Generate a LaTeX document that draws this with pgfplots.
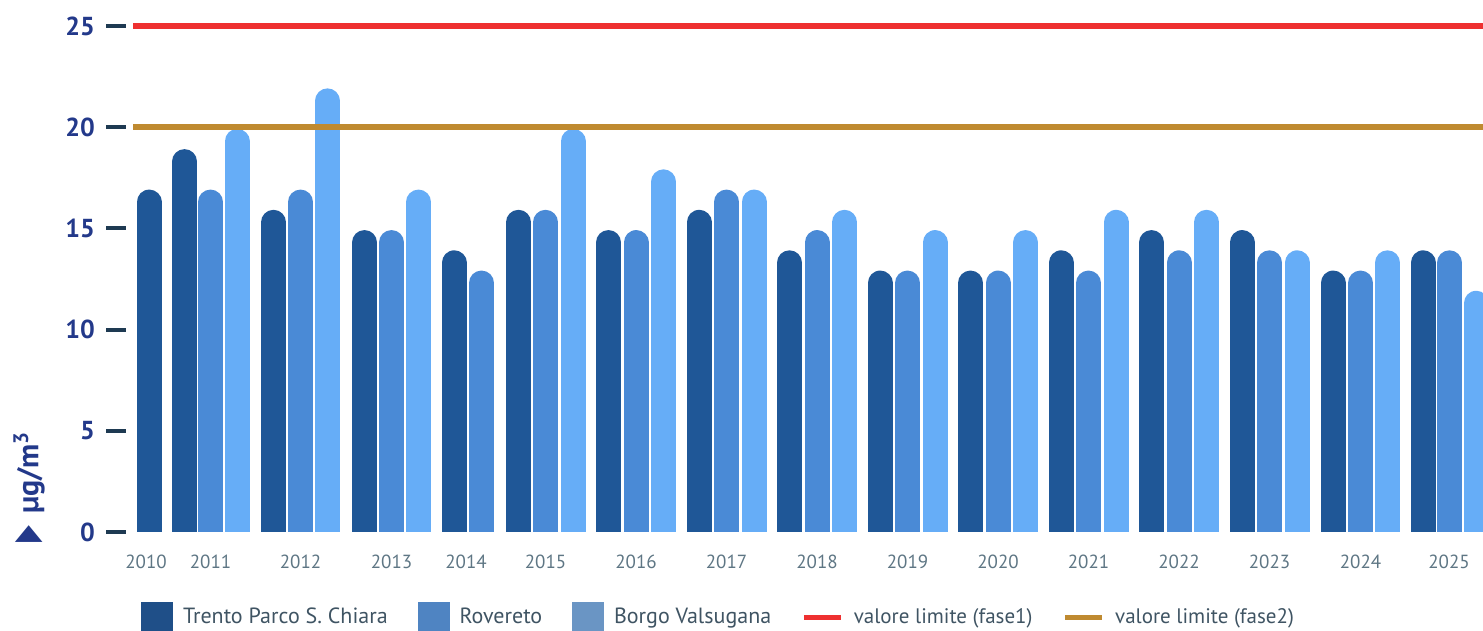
\documentclass[border=0pt]{standalone}
\usepackage{fontspec}
\setmainfont{PT Sans}
\newfontfamily\dejavu{DejaVu Sans}
\usepackage{graphicx}
\usepackage{pgfplots}
\usepackage{pgfplotstable}
\pgfplotsset{compat=1.18}

\definecolor{cdark}{HTML}{1F5797}
\definecolor{cmid}{HTML}{4A8AD6}
\definecolor{clight}{HTML}{66ADF7}
\definecolor{ldark}{HTML}{1F4F88}
\definecolor{lmid}{HTML}{4F84C2}
\definecolor{llight}{HTML}{6A95C4}
\definecolor{limred}{HTML}{EE3030}
\definecolor{limgold}{HTML}{BF8A30}
\definecolor{navy}{HTML}{23398A}
\definecolor{tickc}{HTML}{1E3A52}
\definecolor{xlab}{HTML}{5E7684}
\definecolor{legtext}{HTML}{3F5463}

% x = horizontal position of each bar (the years are grouped irregularly)
\pgfplotstableread{
x      y
149    17
184.5  19
273.5  16
364.5  15
454    14
518.5  16
608.5  15
699    16
789.5  14
880    13
970.5  13
1061   14
1151.5 15
1242   15
1333   13
1423   14
}\trento
\pgfplotstableread{
x      y
210.5  17
300.5  17
391.5  15
481.5  13
545.5  16
636    15
726.5  17
817    15
907.5  13
998    13
1088.5 13
1179   14
1269.5 14
1360.5 13
1449.5 14
}\rovereto
\pgfplotstableread{
x      y
237    20
327.5  22
418.5  17
573    20
663.5  18
754    17
844.5  16
935    15
1025.5 15
1116   16
1206.5 16
1297   14
1387.5 14
1476   12
}\borgo

% bars: thick comb lines with a round cap; the cap's radius (6.25pt = 0.62 units)
% is taken off so that the top of the cap sits at the value; the bottom cap is clipped at 0
\pgfplotsset{
  capbar/.style={ycomb, draw=#1, line width=12.5pt, line cap=round, mark=none, forget plot,
    y filter/.expression={y-0.7}},
}

\begin{document}
\begin{tikzpicture}
\path[use as bounding box] (0,0) rectangle (741.5pt,315.5pt);
\begin{axis}[
  at={(66.5pt,49.5pt)}, anchor=south west,
  scale only axis, width=675pt, height=258.06pt,
  xmin=133, xmax=1483, ymin=0, ymax=25.5,
  /pgf/number format/assume math mode=true,
  axis line style={draw=none},
  xtick={146,210.5,300.5,391.5,466,545.5,636,726.5,817,907.5,998,1088.5,1179,1269.5,1360.5,1449},
  xticklabels={2010,2011,2012,2013,2014,2015,2016,2017,2018,2019,2020,2021,2022,2023,2024,2025},
  xtick style={draw=none},
  xticklabel style={font=\fontsize{9.5}{10}\selectfont, text=xlab, yshift=2pt},
  ytick={0,5,10,15,20,25},
  ytick pos=left, xtick pos=bottom,
  tick align=outside, major tick length=10pt,
  ytick style={draw=tickc, line width=2pt, xshift=-3.5pt},
  yticklabel style={font=\fontsize{13}{14}\selectfont\bfseries, text=navy, xshift=-5.5pt},
  ylabel={{\scalebox{0.61}[1]{\fontsize{18}{18}\dejavu ▶}}\hspace{6pt}µg/m\textsuperscript{3}},
  ylabel style={at={(axis description cs:-0.077,-0.0343)}, anchor=west, font=\fontsize{15}{16}\selectfont\bfseries, text=navy},
  legend columns=5,
  legend style={at={(axis description cs:0.0059,-0.1657)}, anchor=west, draw=none, fill=none,
    font=\fontsize{11}{12}\selectfont, text=legtext, inner sep=0pt,
    /tikz/every odd column/.append style={column sep=3pt},
    /tikz/every even column/.append style={column sep=13pt}},
]
\addplot[capbar=cdark] table[x=x,y=y] {\trento};
\addplot[capbar=cmid] table[x=x,y=y] {\rovereto};
\addplot[capbar=clight] table[x=x,y=y] {\borgo};
\addplot[limred, line width=2.8pt, forget plot] coordinates {(133,25) (1483,25)};
\addplot[limgold, line width=2.8pt, forget plot] coordinates {(133,20) (1483,20)};

\addlegendimage{legend image code/.code={\fill[ldark] (0pt,-7.75pt) rectangle (15.5pt,7.75pt);}}
\addlegendentry{Trento Parco S. Chiara}
\addlegendimage{legend image code/.code={\fill[lmid] (0pt,-7.75pt) rectangle (15.5pt,7.75pt);}}
\addlegendentry{Rovereto}
\addlegendimage{legend image code/.code={\fill[llight] (0pt,-7.75pt) rectangle (15.5pt,7.75pt);}}
\addlegendentry{Borgo Valsugana}
\addlegendimage{legend image code/.code={\draw[limred, line width=2.8pt] (0pt,0pt) -- (18.5pt,0pt);}}
\addlegendentry{\fontsize{10.5}{12}\selectfont valore limite (fase1)}
\addlegendimage{legend image code/.code={\draw[limgold, line width=2.8pt] (0pt,0pt) -- (18.5pt,0pt);}}
\addlegendentry{\fontsize{10.5}{12}\selectfont valore limite (fase2)}
\end{axis}
\end{tikzpicture}
\end{document}
